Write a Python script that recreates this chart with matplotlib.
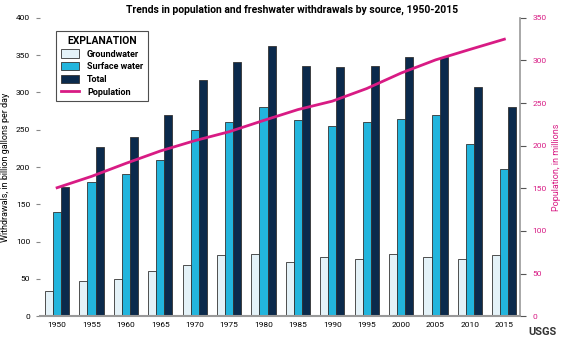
import matplotlib.pyplot as plt
import numpy as np

years = ['1950', '1955', '1960', '1965', '1970', '1975', '1980',
         '1985', '1990', '1995', '2000', '2005', '2010', '2015']
groundwater = [34, 47, 50, 60, 68, 82, 83, 73, 79, 76, 84, 79, 76, 82]
surface = [140, 180, 190, 210, 250, 260, 280, 263, 255, 261, 265, 270, 231, 198]
total = [173, 227, 240, 270, 317, 341, 362, 336, 334, 336, 348, 348, 307, 281]
population = [150.7, 164, 179.3, 193.8, 205.9, 216.4, 229.6,
              242.4, 252.3, 267.1, 285.3, 300.7, 313.0, 325.0]

plt.rcParams['font.family'] = ['Liberation Sans Narrow', 'DejaVu Sans Condensed', 'Roboto', 'DejaVu Sans']
plt.rcParams['font.stretch'] = 'condensed'

c_gw = '#e4f2f8'
c_sw = '#22b5dd'
c_tot = '#0b2a4c'
c_pop = '#d81b84'

fig = plt.figure(figsize=(5.62, 3.44), dpi=100)
ax = fig.add_axes([0.071, 0.081, 0.854, 0.867])
x = np.arange(len(years))
w = 0.235

ax.bar(x - w, groundwater, w, color=c_gw, edgecolor='#333333', linewidth=0.6, label='Groundwater')
ax.bar(x, surface, w, color=c_sw, edgecolor='#333333', linewidth=0.6, label='Surface water')
ax.bar(x + w, total, w, color=c_tot, edgecolor='#333333', linewidth=0.6, label='Total')

ax.set_xlim(-0.5, 13.45)
ax.set_ylim(0, 400)
ax.set_xticks(x)
ax.set_xticklabels(years, fontsize=6)
ax.set_yticks(range(0, 401, 50))
ax.tick_params(axis='y', labelsize=6, length=3, color='#888888', pad=4)
ax.tick_params(axis='x', length=0, pad=4)
ax.set_ylabel('Withdrawals, in billion gallons per day', fontsize=6.5)
ax.yaxis.set_label_coords(-0.062, 0.5)
ax.spines['top'].set_visible(False)
ax.spines['bottom'].set_color('#999999')
ax.spines['bottom'].set_linewidth(1.5)
ax.spines['left'].set_visible(False)
ax.spines['right'].set_visible(False)

ax2 = ax.twinx()
ax2.plot(x, population, color=c_pop, linewidth=2, label='Population', zorder=5)
ax2.set_ylim(0, 350)
ax2.set_yticks(range(0, 351, 50))
ax2.tick_params(axis='y', labelsize=6, labelcolor=c_pop, color='#555555', length=4, pad=5)
ax2.set_ylabel('Population, in millions', fontsize=6.5, color=c_pop)
ax2.yaxis.set_label_coords(1.066, 0.5)
ax2.spines['top'].set_visible(False)
ax2.spines['left'].set_visible(False)
ax2.spines['bottom'].set_visible(False)
ax2.spines['right'].set_color('#999999')
ax2.spines['right'].set_linewidth(1.2)

h1, l1 = ax.get_legend_handles_labels()
h2, l2 = ax2.get_legend_handles_labels()
leg = ax2.legend(h1 + h2, l1 + l2, loc='upper left', bbox_to_anchor=(0.025, 0.97),
                 title='EXPLANATION', fontsize=6.5, frameon=True, fancybox=False,
                 edgecolor='#222222', handlelength=2.0, handleheight=1.0, borderpad=0.5,
                 labelspacing=0.4, handletextpad=0.9)
leg.get_title().set_fontweight('bold')
leg.get_title().set_fontsize(7.5)
for t in leg.get_texts():
    t.set_fontweight('bold')
leg.get_frame().set_linewidth(0.8)

fig.text(0.52, 0.971, 'Trends in population and freshwater withdrawals by source, 1950-2015',
         ha='center', va='center', fontsize=7.5, fontweight='bold')
fig.text(0.99, 0.02, 'USGS', ha='right', va='bottom', fontsize=8, fontweight='bold', color='#333333')

fig.savefig('out.png', dpi=100)
